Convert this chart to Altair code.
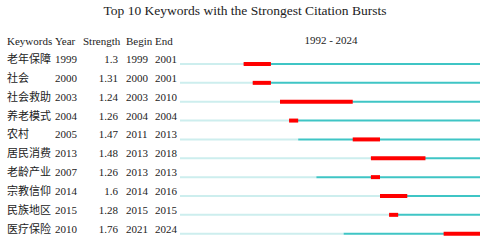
import altair as alt
import pandas as pd

title = "Top 10 Keywords with the Strongest Citation Bursts"
span_label = "1992 - 2024"
headers = ["Keywords", "Year", "Strength", "Begin", "End"]
keywords = ["老年保障", "社会", "社会救助", "养老模式", "农村", "居民消费", "老龄产业", "宗教信仰", "民族地区", "医疗保险"]
years = [1999, 2000, 2003, 2004, 2005, 2013, 2007, 2014, 2015, 2010]
strengths = [1.3, 1.31, 1.24, 1.26, 1.47, 1.48, 1.26, 1.6, 1.28, 1.76]
begins = [1999, 2000, 2003, 2004, 2011, 2013, 2013, 2014, 2015, 2021]
ends = [2001, 2001, 2010, 2004, 2013, 2018, 2013, 2016, 2015, 2024]
first_year = 1992
last_year = 2024

df = pd.DataFrame({
    "Keywords": keywords,
    "Year": years,
    "Strength": [str(s) for s in strengths],
    "Begin": begins,
    "End": ends,
})
df["start"] = first_year
df["stop"] = last_year + 1
df["EndNext"] = df["End"] + 1
df["YearS"] = df["Year"].astype(str)
df["BeginS"] = df["Begin"].astype(str)
df["EndS"] = df["End"].astype(str)

FONT = "Liberation Serif, Noto Sans CJK SC"
FS = 11
TXT = "#222222"

xs = alt.Scale(domain=[first_year, last_year + 1], range=[180, 480])
ys = alt.Scale(type="point", domain=keywords, range=[64, 233.7], padding=0)

base = alt.Chart(df)
Y = alt.Y("Keywords:N", scale=ys, axis=None)

light = base.mark_rule(color="#cdeeee", strokeWidth=2).encode(
    x=alt.X("start:Q", scale=xs, axis=None), x2="Year:Q", y=Y)
teal = base.mark_rule(color="#3fc5c5", strokeWidth=2).encode(
    x=alt.X("Year:Q", scale=xs, axis=None), x2="stop:Q", y=Y)
red = base.mark_rule(color="#ff0000", strokeWidth=4).encode(
    x=alt.X("Begin:Q", scale=xs, axis=None), x2="EndNext:Q", y=Y)

def col(field, xpos, align="left"):
    return base.mark_text(font=FONT, fontSize=FS, align=align, baseline="middle",
                          dy=-4, color=TXT).encode(
        x=alt.value(xpos), y=Y, text=f"{field}:N")

cols = [col("Keywords", 7), col("YearS", 55), col("Strength", 118, "right"),
        col("BeginS", 126), col("EndS", 155)]

head_layers = []
for h, xp in zip(headers, [7, 55, 83, 126, 155]):
    head_layers.append(alt.Chart(pd.DataFrame({"h": [h]})).mark_text(
        font=FONT, fontSize=FS, align="left", baseline="middle", color=TXT).encode(
        x=alt.value(xp), y=alt.value(42), text="h:N"))

span = alt.Chart(pd.DataFrame({"h": [span_label]})).mark_text(
    font=FONT, fontSize=FS, align="center", baseline="middle", color=TXT).encode(
    x=alt.value(331), y=alt.value(41), text="h:N")

ttl = alt.Chart(pd.DataFrame({"h": [title]})).mark_text(
    font=FONT, fontSize=13.5, align="center", baseline="middle", color=TXT).encode(
    x=alt.value(245), y=alt.value(11), text="h:N")

chart = alt.layer(light, teal, red, *cols, *head_layers, span, ttl).properties(
    width=488, height=243, padding=0, autosize="none", background="white"
).configure_view(stroke=None)

chart.save("out.html", embed_options={"renderer": "svg", "actions": False})
